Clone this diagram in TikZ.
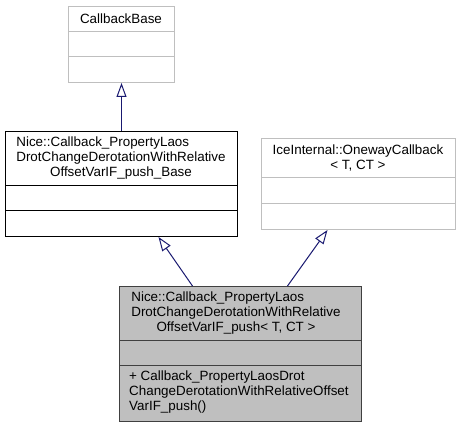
\documentclass[tikz,border=0pt]{standalone}
\usepackage{fontspec}
\setmainfont{Liberation Sans}
\usetikzlibrary{arrows.meta}
\definecolor{boxgray}{HTML}{BFBFBF}
\definecolor{edgeblue}{HTML}{191970}
\definecolor{darkline}{HTML}{404040}
\begin{document}
\begin{tikzpicture}[x=1pt,y=-1pt,
  umlbox/.style={draw, line width=1pt, inner sep=0pt, anchor=north west},
  txt/.style={inner sep=0pt, font=\fontsize{13.4}{15}\selectfont},
  inherit/.style={edgeblue, line width=1pt, -{Triangle[open, length=14pt, width=10pt]}}]
\useasboundingbox (0,0) rectangle (461,427);
% CallbackBase
\node[umlbox, draw=boxgray, minimum width=106pt, minimum height=76pt] (cb) at (68,6) {};
\draw[boxgray, line width=1pt] (68,32)--(174,32) (68,57)--(174,57);
\node[txt] (cbname) at (121,19) {CallbackBase};
% base class
\node[umlbox, minimum width=232pt, minimum height=105pt] (base) at (5,131) {};
\draw[line width=1pt] (5,186)--(237,186) (5,211)--(237,211);
\node[txt, align=left] (basename) at (121,158) {Nice::Callback\_PropertyLaos\\
  DrotChangeDerotationWithRelative\\
  \hspace*{\fill}OffsetVarIF\_push\_Base\hspace*{\fill}};
% IceInternal
\node[umlbox, draw=boxgray, minimum width=194pt, minimum height=91pt] (ice) at (261,138) {};
\draw[boxgray, line width=1pt] (261,178)--(455,178) (261,204)--(455,204);
\node[txt, align=center] (icename) at (358,158) {IceInternal::OnewayCallback\\ < T, CT >};
% the class itself
\node[umlbox, draw=darkline, fill=boxgray, minimum width=242pt, minimum height=135pt] (cls) at (119,286) {};
\draw[darkline, line width=1pt] (119,341)--(361,341) (119,366)--(361,366);
\node[txt, align=left] (clsname) at (236,313) {Nice::Callback\_PropertyLaos\\
  DrotChangeDerotationWithRelative\\
  \hspace*{\fill}OffsetVarIF\_push< T, CT >\hspace*{\fill}};
\node[txt, align=left, anchor=west] (clsop) at (129,392) {+ Callback\_PropertyLaosDrot\\
  ChangeDerotationWithRelativeOffset\\ VarIF\_push()};
% inheritance
\draw[inherit] (base.north) -- (cb.south);
\draw[inherit] ([xshift=-48pt]cls.north) -- ([xshift=37pt]base.south);
\draw[inherit] ([xshift=47pt]cls.north) -- ([xshift=-31pt]ice.south);
\end{tikzpicture}
\end{document}
